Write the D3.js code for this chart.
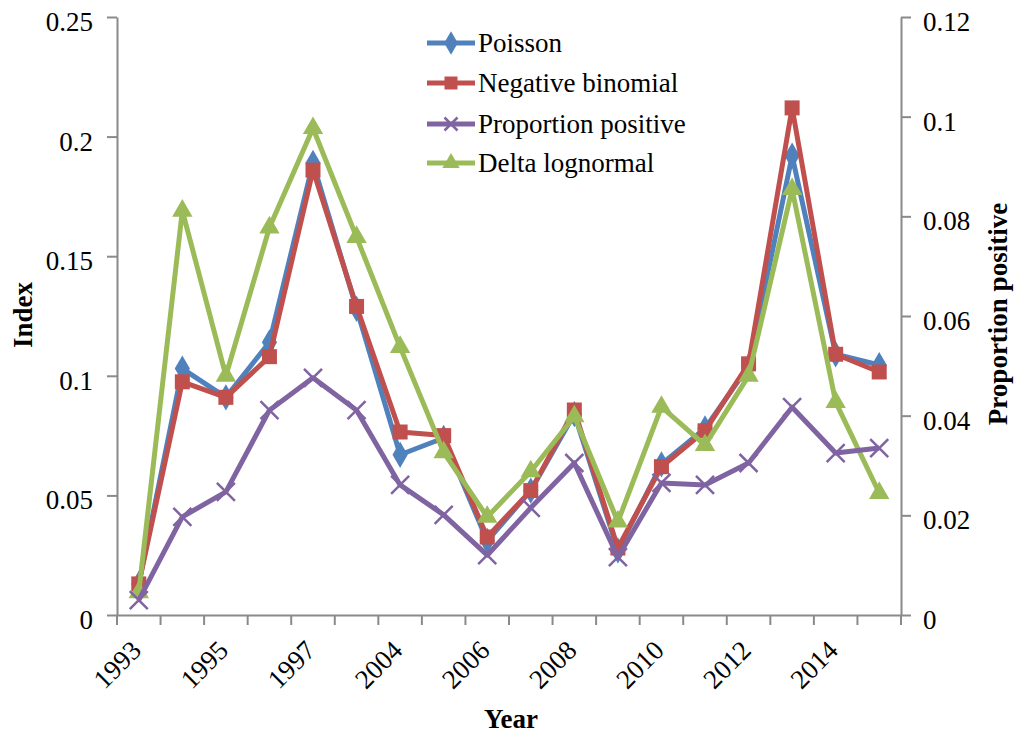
<!DOCTYPE html>
<html><head><meta charset="utf-8">
<script src="https://cdn.jsdelivr.net/npm/d3@7"></script>
<style>body{margin:0;background:#fff;} text{font-family:"Liberation Serif","Times New Roman",serif;fill:#000;}</style>
</head><body><svg id="c" width="1018" height="735"></svg>
<script>
const categories = ["1993","1994","1995","1996","1997","2003","2004","2005","2006","2007","2008","2009","2010","2011","2012","2013","2014","2015"];
const poisson = [0.013, 0.103, 0.091, 0.114, 0.189, 0.128, 0.067, 0.074, 0.031, 0.052, 0.084, 0.027, 0.063, 0.078, 0.104, 0.192, 0.109, 0.1045];
const negBinomial = [0.013, 0.0975, 0.091, 0.108, 0.186, 0.129, 0.0765, 0.075, 0.0326, 0.052, 0.0857, 0.028, 0.062, 0.077, 0.105, 0.212, 0.109, 0.1016];
const deltaLognormal = [0.0095, 0.169, 0.1, 0.162, 0.2035, 0.158, 0.112, 0.068, 0.041, 0.060, 0.083, 0.039, 0.087, 0.071, 0.100, 0.178, 0.089, 0.051];
const proportionPositive = [0.003, 0.0197, 0.0247, 0.0411, 0.0476, 0.0411, 0.0261, 0.0201, 0.0120, 0.0215, 0.0305, 0.0116, 0.0265, 0.0261, 0.0305, 0.0417, 0.0325, 0.0335];
const leftTicks = [0, 0.05, 0.1, 0.15, 0.2, 0.25];
const rightTicks = [0, 0.02, 0.04, 0.06, 0.08, 0.1, 0.12];
const seriesNames = ["Poisson", "Negative binomial", "Proportion positive", "Delta lognormal"];

const svg = d3.select("#c");
const L = 117, R = 901, T = 17, B = 615;
const axisColor = "#8a8a8a";
const x = d3.scaleBand().domain(categories).range([L, R]).padding(0);
const cx = d => x(d) + x.bandwidth() / 2;
const yL = d3.scaleLinear().domain([0, 0.25]).range([B, T]);
const yR = d3.scaleLinear().domain([0, 0.12]).range([B, T]);

const colors = {"Poisson":"#4F81BD","Negative binomial":"#C0504D","Proportion positive":"#8064A2","Delta lognormal":"#9BBB59"};
const shapes = {"Poisson":"diamond","Negative binomial":"square","Proportion positive":"x","Delta lognormal":"triangle"};

function styleAxis(g){
  g.select(".domain").attr("stroke", axisColor).attr("stroke-width", 2);
  g.selectAll(".tick line").attr("stroke", axisColor).attr("stroke-width", 2);
  g.selectAll(".tick text").attr("font-size", 27).attr("font-family", "Liberation Serif");
}

// Left axis
const gL = svg.append("g").attr("transform", `translate(${L},0)`)
  .call(d3.axisLeft(yL).tickValues(leftTicks).tickFormat(d => d3.format("")(+d.toFixed(2))).tickSize(10).tickSizeOuter(0).tickPadding(14));
styleAxis(gL);
gL.selectAll(".tick text").attr("dy", "0.5em");

// Right axis
const gR = svg.append("g").attr("transform", `translate(${R},0)`)
  .call(d3.axisRight(yR).tickValues(rightTicks).tickFormat(d => d3.format("")(+d.toFixed(2))).tickSize(10).tickSizeOuter(0).tickPadding(12));
styleAxis(gR);
gR.selectAll(".tick text").attr("dy", "0.5em");

// Bottom axis
const gB = svg.append("g").attr("transform", `translate(0,${B})`)
  .call(d3.axisBottom(x).tickSize(0).tickSizeOuter(0).tickFormat((d,i) => i % 2 === 0 ? d : ""));
gB.select(".domain").attr("stroke", axisColor).attr("stroke-width", 2);
gB.selectAll(".tick text").attr("font-size", 27).attr("text-anchor", "end")
  .attr("dy", 0).attr("y", 0)
  .attr("transform", "translate(4,37) rotate(-45)");
// boundary ticks
const bounds = categories.map(d => x(d)).concat([R]);
gB.selectAll("line.bt").data(bounds).join("line").attr("class","bt")
  .attr("x1", d => d).attr("x2", d => d).attr("y1", 0).attr("y2", 10)
  .attr("stroke", axisColor).attr("stroke-width", 2);

// Series
function markerPath(shape, s){
  if (shape === "diamond") return d3.symbol(d3.symbolDiamond, s*s*0.5)();
  if (shape === "square") return d3.symbol(d3.symbolSquare, s*s)();
  if (shape === "triangle") return d3.symbol(d3.symbolTriangle, s*s*0.45)();
  const h = s/2; return `M${-h},${-h}L${h},${h}M${-h},${h}L${h},${-h}`;
}
function drawSeries(name, vals, yScale){
  const c = colors[name];
  const pts = categories.map((d,i) => [cx(d), yScale(vals[i])]);
  svg.append("path").attr("d", d3.line()(pts)).attr("fill","none").attr("stroke", c)
    .attr("stroke-width", 5).attr("stroke-linejoin","round");
  const sz = shapes[name]==="x" ? 18 : (shapes[name]==="triangle" ? 20 : 15);
  svg.append("g").selectAll("path").data(pts).join("path")
    .attr("transform", p => `translate(${p[0]},${p[1]})`)
    .attr("d", markerPath(shapes[name], shapes[name]==="diamond" ? 20 : sz))
    .attr("fill", shapes[name]==="x" ? "none" : c)
    .attr("stroke", c).attr("stroke-width", shapes[name]==="x" ? 2.5 : 0);
}
drawSeries("Poisson", poisson, yL);
drawSeries("Negative binomial", negBinomial, yL);
drawSeries("Delta lognormal", deltaLognormal, yL);
drawSeries("Proportion positive", proportionPositive, yR);

// Legend
const leg = svg.append("g");
seriesNames.forEach((n, i) => {
  const yy = [43, 83, 124, 163][i];
  leg.append("line").attr("x1", 427).attr("x2", 475).attr("y1", yy).attr("y2", yy)
    .attr("stroke", colors[n]).attr("stroke-width", 5);
  leg.append("path").attr("transform", `translate(451,${yy})`)
    .attr("d", markerPath(shapes[n], shapes[n]==="diamond" ? 18 : (shapes[n]==="triangle" ? 17 : 13)))
    .attr("fill", shapes[n]==="x" ? "none" : colors[n]).attr("stroke", colors[n]).attr("stroke-width", shapes[n]==="x" ? 2.5 : 0);
  leg.append("text").attr("x", 478).attr("y", yy + 9).attr("font-size", 27).text(n);
});

// Titles
svg.append("text").attr("transform", "translate(32,315) rotate(-90)").attr("text-anchor","middle")
  .attr("font-size", 27).attr("font-weight","bold").text("Index");
svg.append("text").attr("x", 511).attr("y", 728).attr("text-anchor","middle")
  .attr("font-size", 27).attr("font-weight","bold").text("Year");
svg.append("text").attr("transform", "translate(1007,314) rotate(-90)").attr("text-anchor","middle")
  .attr("font-size", 27).attr("font-weight","bold").text("Proportion positive");
</script></body></html>
